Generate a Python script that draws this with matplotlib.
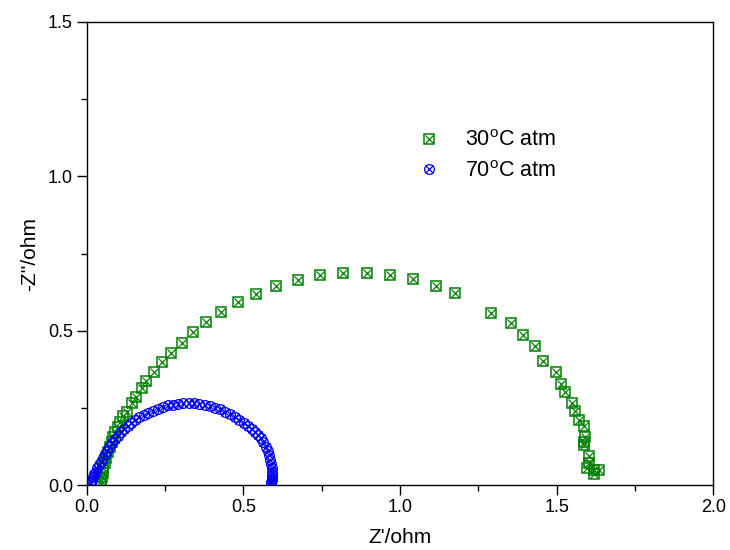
import matplotlib
matplotlib.use("Agg")
import matplotlib.pyplot as plt
from matplotlib.ticker import MultipleLocator
from matplotlib.legend_handler import HandlerTuple

plt.rcParams['font.family'] = ['Liberation Sans', 'DejaVu Sans']

# 30 C atm (green)
x30 = [0.044, 0.045, 0.047, 0.050, 0.053, 0.057, 0.062, 0.067, 0.073, 0.079,
       0.085, 0.091, 0.098, 0.105, 0.116, 0.127, 0.143, 0.157, 0.175, 0.188,
       0.214, 0.239, 0.268, 0.303, 0.338, 0.380, 0.429, 0.482, 0.540, 0.604,
       0.674, 0.745, 0.817, 0.895, 0.967, 1.042, 1.115, 1.177, 1.291, 1.355,
       1.392, 1.431, 1.456, 1.497, 1.515, 1.527, 1.549, 1.560, 1.572, 1.587,
       1.592, 1.589, 1.589, 1.604, 1.604, 1.597, 1.618, 1.634, 1.618]
y30 = [0.004, 0.013, 0.026, 0.040, 0.055, 0.072, 0.089, 0.106, 0.123, 0.140,
       0.156, 0.172, 0.188, 0.205, 0.224, 0.237, 0.265, 0.286, 0.316, 0.338,
       0.367, 0.398, 0.429, 0.461, 0.495, 0.528, 0.560, 0.592, 0.619, 0.644,
       0.664, 0.679, 0.686, 0.686, 0.679, 0.666, 0.644, 0.623, 0.557, 0.525,
       0.486, 0.450, 0.402, 0.366, 0.328, 0.301, 0.267, 0.240, 0.211, 0.191,
       0.157, 0.140, 0.130, 0.094, 0.072, 0.056, 0.048, 0.048, 0.036]

# 70 C atm (blue)
x70 = [0.012, 0.016, 0.020, 0.024, 0.028, 0.033, 0.038, 0.044, 0.050, 0.057,
       0.064, 0.072, 0.080, 0.089, 0.098, 0.108, 0.119, 0.130, 0.142, 0.155,
       0.168, 0.182, 0.196, 0.211, 0.226, 0.242, 0.258, 0.274, 0.291, 0.308,
       0.325, 0.342, 0.359, 0.376, 0.393, 0.410, 0.426, 0.442, 0.458, 0.473,
       0.487, 0.501, 0.514, 0.526, 0.537, 0.547, 0.556, 0.564, 0.571, 0.577,
       0.582, 0.586, 0.589, 0.591, 0.592, 0.592, 0.591, 0.590, 0.589, 0.588]
y70 = [0.008, 0.017, 0.026, 0.035, 0.044, 0.054, 0.064, 0.076, 0.088, 0.100,
       0.112, 0.124, 0.136, 0.149, 0.160, 0.171, 0.181, 0.191, 0.201, 0.210,
       0.219, 0.227, 0.234, 0.241, 0.247, 0.253, 0.258, 0.261, 0.264, 0.266,
       0.266, 0.265, 0.263, 0.260, 0.256, 0.251, 0.245, 0.238, 0.229, 0.220,
       0.210, 0.200, 0.191, 0.182, 0.173, 0.163, 0.151, 0.138, 0.124, 0.110,
       0.096, 0.082, 0.068, 0.055, 0.043, 0.033, 0.024, 0.016, 0.010, 0.005]

green = '#008000'
blue = '#0000ff'

fig = plt.figure(figsize=(7.3, 5.5), dpi=100)
ax = fig.add_axes([0.119, 0.118, 0.858, 0.842])

g1, = ax.plot(x30, y30, ls='none', marker='s', ms=6.5, mfc='none', mec=green, mew=1.1)
g2, = ax.plot(x30, y30, ls='none', marker='x', ms=5.5, mec=green, mew=0.9)
b1, = ax.plot(x70, y70, ls='none', marker='o', ms=7, mfc='none', mec=blue, mew=0.9)
b2, = ax.plot(x70, y70, ls='none', marker='x', ms=5.5, mec=blue, mew=0.9)

ax.set_xlim(0, 2.0)
ax.set_ylim(0, 1.5)
ax.xaxis.set_major_locator(MultipleLocator(0.5))
ax.xaxis.set_minor_locator(MultipleLocator(0.25))
ax.yaxis.set_major_locator(MultipleLocator(0.5))
ax.yaxis.set_minor_locator(MultipleLocator(0.25))
ax.tick_params(which='major', direction='out', length=7, width=1, labelsize=13, pad=3)
ax.tick_params(which='minor', direction='out', length=4, width=1)
for s in ax.spines.values():
    s.set_linewidth(1.0)

ax.set_xlabel("Z'/ohm", fontsize=15, labelpad=9)
ax.set_ylabel("-Z''/ohm", fontsize=15, labelpad=6)

ax.legend([(g1, g2), (b1, b2)],
          [r'30$^\mathregular{o}$C atm', r'70$^\mathregular{o}$C atm'],
          handler_map={tuple: HandlerTuple(ndivide=1, pad=0)},
          loc='upper left', bbox_to_anchor=(0.49, 0.808), frameon=False,
          fontsize=15.5, handlelength=1.5, handletextpad=0.9, labelspacing=0.45)

fig.savefig('out.png', dpi=100)
